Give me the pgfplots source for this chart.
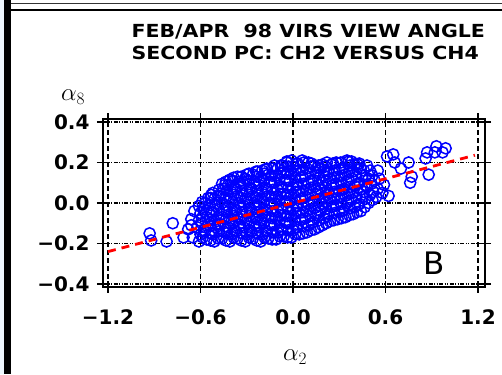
\documentclass[border=0pt]{standalone}
\usepackage{pgfplots}
\pgfplotsset{compat=1.18}
\usepackage{fontspec}
\usepackage{graphicx}
\setmainfont{DejaVu Sans}
\definecolor{edgeblue}{HTML}{EEF6FD}

\begin{document}
\begin{tikzpicture}[x=1pt,y=1pt]
\useasboundingbox (0,0) rectangle (502,374);
% frame bits of the original panel
\fill[edgeblue] (0,0) rectangle (4,374);
\fill[black] (4,0) rectangle (11,374);
\draw[black!80, line width=1.4pt] (11,370.3) -- (502,370.3);
\draw[black, line width=2pt] (11,364) -- (502,364);

\begin{axis}[
    scale only axis,
    width=382pt, height=168pt,
    at={(103pt,87pt)}, anchor=south west,
    clip mode=individual,
    xmin=-1.2324, xmax=1.2454,
    ymin=-0.4148, ymax=0.4148,
    xtick={-1.2,-0.6,0,0.6,1.2},
    xticklabels={−1.2,−0.6,0.0,0.6,1.2},
    ytick={-0.4,-0.2,0,0.2,0.4},
    yticklabels={−0.4,−0.2,0.0,0.2,0.4},
    tick align=center,
    major tick length=12pt,
    every tick/.style={black, line width=1.3pt},
    ticklabel style={font=\bfseries\fontsize{20}{20}\selectfont},
    xticklabel style={yshift=-13pt},
    yticklabel style={xshift=-4pt},
    axis line style={line width=1.4pt},
    xmajorgrids, ymajorgrids,
    x grid style={black, line width=1.2pt, dash pattern=on 5pt off 3pt},
    y grid style={black, line width=1.2pt, dash pattern=on 4pt off 1.5pt on 1pt off 1.5pt on 1pt off 1.5pt},
]
% PC scores, first set
\addplot[only marks, mark=o, mark size=5.6pt, blue, mark options={line width=1.5pt}] coordinates {
(-0.93,-0.15) (-0.92,-0.185) (-0.82,-0.19) (-0.78,-0.10) (-0.71,-0.17)
(-0.68,-0.13) (-0.66,-0.08) (-0.65,-0.17) (-0.64,-0.04) (-0.66,-0.11)
(-0.61,-0.19) (-0.60,-0.155) (-0.62,-0.12) (-0.61,-0.085) (-0.60,-0.05) (-0.61,-0.015)
(-0.56,-0.18) (-0.57,-0.14) (-0.55,-0.105) (-0.56,-0.07) (-0.56,-0.035) (-0.57,0.0) (-0.55,0.025)
(-0.51,-0.19) (-0.52,-0.155) (-0.50,-0.12) (-0.51,-0.085) (-0.52,-0.05) (-0.50,-0.015) (-0.51,0.02) (-0.52,0.05)
(-0.46,-0.175) (-0.45,-0.14) (-0.47,-0.105) (-0.46,-0.07) (-0.45,-0.035) (-0.46,0.0) (-0.47,0.035) (-0.45,0.07) (-0.46,0.095)
(-0.41,-0.19) (-0.40,-0.155) (-0.42,-0.12) (-0.41,-0.085) (-0.40,-0.05) (-0.42,-0.015) (-0.41,0.02) (-0.40,0.055) (-0.42,0.09) (-0.41,0.115)
(-0.36,-0.175) (-0.37,-0.14) (-0.35,-0.105) (-0.36,-0.07) (-0.37,-0.035) (-0.35,0.0) (-0.36,0.035) (-0.37,0.07) (-0.35,0.105) (-0.36,0.13)
(-0.31,-0.19) (-0.30,-0.155) (-0.32,-0.12) (-0.31,-0.085) (-0.30,-0.05) (-0.32,-0.015) (-0.31,0.02) (-0.30,0.055) (-0.32,0.09) (-0.31,0.12) (-0.30,0.14)
(-0.26,-0.175) (-0.27,-0.14) (-0.25,-0.105) (-0.26,-0.07) (-0.27,-0.035) (-0.25,0.0) (-0.26,0.035) (-0.27,0.07) (-0.25,0.105) (-0.26,0.14) (-0.24,0.155)
(-0.21,-0.19) (-0.20,-0.155) (-0.22,-0.12) (-0.21,-0.085) (-0.20,-0.05) (-0.22,-0.015) (-0.21,0.02) (-0.20,0.055) (-0.22,0.09) (-0.21,0.125) (-0.20,0.16)
(-0.16,-0.175) (-0.17,-0.14) (-0.15,-0.105) (-0.16,-0.07) (-0.17,-0.035) (-0.15,0.0) (-0.16,0.035) (-0.17,0.07) (-0.15,0.105) (-0.16,0.14) (-0.17,0.17)
(-0.11,-0.18) (-0.10,-0.145) (-0.12,-0.11) (-0.11,-0.075) (-0.10,-0.04) (-0.12,-0.005) (-0.11,0.03) (-0.10,0.065) (-0.12,0.10) (-0.11,0.135) (-0.10,0.17) (-0.12,0.185)
(-0.06,-0.165) (-0.07,-0.13) (-0.05,-0.095) (-0.06,-0.06) (-0.07,-0.025) (-0.05,0.01) (-0.06,0.045) (-0.07,0.08) (-0.05,0.115) (-0.06,0.15) (-0.07,0.185) (-0.04,0.20)
(-0.01,-0.17) (0.00,-0.135) (-0.02,-0.10) (-0.01,-0.065) (0.00,-0.03) (-0.02,0.005) (-0.01,0.04) (0.00,0.075) (-0.02,0.11) (-0.01,0.145) (0.00,0.18) (-0.01,0.21)
(0.04,-0.155) (0.03,-0.12) (0.05,-0.085) (0.04,-0.05) (0.03,-0.015) (0.05,0.02) (0.04,0.055) (0.03,0.09) (0.05,0.125) (0.04,0.16) (0.03,0.195) (0.06,0.21)
(0.09,-0.145) (0.10,-0.11) (0.08,-0.075) (0.09,-0.04) (0.10,-0.005) (0.08,0.03) (0.09,0.065) (0.10,0.10) (0.08,0.135) (0.09,0.17) (0.10,0.20)
(0.14,-0.13) (0.13,-0.095) (0.15,-0.06) (0.14,-0.025) (0.13,0.01) (0.15,0.045) (0.14,0.08) (0.13,0.115) (0.15,0.15) (0.14,0.185)
(0.19,-0.11) (0.20,-0.075) (0.18,-0.04) (0.19,-0.005) (0.20,0.03) (0.18,0.065) (0.19,0.10) (0.20,0.135) (0.18,0.17) (0.19,0.19)
(0.24,-0.09) (0.23,-0.055) (0.25,-0.02) (0.24,0.015) (0.23,0.05) (0.25,0.085) (0.24,0.12) (0.23,0.155) (0.25,0.19) (0.22,0.20)
(0.29,-0.08) (0.30,-0.045) (0.28,-0.01) (0.29,0.025) (0.30,0.06) (0.28,0.095) (0.29,0.13) (0.30,0.165) (0.28,0.20)
(0.34,-0.07) (0.33,-0.035) (0.35,0.0) (0.34,0.035) (0.33,0.07) (0.35,0.105) (0.34,0.14) (0.33,0.175) (0.35,0.21)
(0.39,-0.055) (0.40,-0.02) (0.38,0.015) (0.39,0.05) (0.40,0.085) (0.38,0.12) (0.39,0.155) (0.40,0.19) (0.38,0.205)
(0.44,-0.04) (0.43,-0.005) (0.45,0.03) (0.44,0.065) (0.43,0.10) (0.45,0.135) (0.44,0.17) (0.43,0.195)
(0.49,0.0) (0.50,0.04) (0.48,0.08) (0.49,0.12) (0.50,0.16) (0.48,0.185)
(0.54,0.03) (0.55,0.07) (0.53,0.11) (0.55,0.16)
(0.58,0.05) (0.59,0.09) (0.62,0.035) (0.56,0.12)
(0.61,0.23) (0.65,0.24) (0.66,0.20) (0.70,0.17) (0.75,0.20) (0.77,0.13) (0.76,0.10)
(0.88,0.14) (0.87,0.25) (0.86,0.22) (0.93,0.28) (0.99,0.27) (0.97,0.25) (0.92,0.25)
};
% PC scores, second set
\addplot[only marks, mark=o, mark size=5.6pt, blue, mark options={line width=1.5pt}] coordinates {
(-0.585,-0.17) (-0.58,-0.135) (-0.59,-0.10) (-0.585,-0.065) (-0.58,-0.03) (-0.59,0.005)
(-0.535,-0.185) (-0.53,-0.15) (-0.54,-0.115) (-0.535,-0.08) (-0.53,-0.045) (-0.54,-0.01) (-0.535,0.025) (-0.53,0.04)
(-0.485,-0.175) (-0.48,-0.14) (-0.49,-0.105) (-0.485,-0.07) (-0.48,-0.035) (-0.49,0.0) (-0.485,0.035) (-0.48,0.065)
(-0.435,-0.185) (-0.43,-0.15) (-0.44,-0.115) (-0.435,-0.08) (-0.43,-0.045) (-0.44,-0.01) (-0.435,0.025) (-0.43,0.06) (-0.44,0.09) (-0.435,0.105)
(-0.385,-0.17) (-0.38,-0.135) (-0.39,-0.10) (-0.385,-0.065) (-0.38,-0.03) (-0.39,0.005) (-0.385,0.04) (-0.38,0.075) (-0.39,0.11) (-0.385,0.125)
(-0.335,-0.185) (-0.33,-0.15) (-0.34,-0.115) (-0.335,-0.08) (-0.33,-0.045) (-0.34,-0.01) (-0.335,0.025) (-0.33,0.06) (-0.34,0.095) (-0.335,0.13)
(-0.285,-0.17) (-0.28,-0.135) (-0.29,-0.10) (-0.285,-0.065) (-0.28,-0.03) (-0.29,0.005) (-0.285,0.04) (-0.28,0.075) (-0.29,0.11) (-0.285,0.145)
(-0.235,-0.185) (-0.23,-0.15) (-0.24,-0.115) (-0.235,-0.08) (-0.23,-0.045) (-0.24,-0.01) (-0.235,0.025) (-0.23,0.06) (-0.24,0.095) (-0.235,0.13) (-0.23,0.155)
(-0.185,-0.17) (-0.18,-0.135) (-0.19,-0.10) (-0.185,-0.065) (-0.18,-0.03) (-0.19,0.005) (-0.185,0.04) (-0.18,0.075) (-0.19,0.11) (-0.185,0.145) (-0.18,0.165)
(-0.135,-0.18) (-0.13,-0.145) (-0.14,-0.11) (-0.135,-0.075) (-0.13,-0.04) (-0.14,-0.005) (-0.135,0.03) (-0.13,0.065) (-0.14,0.10) (-0.135,0.135) (-0.13,0.17)
(-0.085,-0.165) (-0.08,-0.13) (-0.09,-0.095) (-0.085,-0.06) (-0.08,-0.025) (-0.09,0.01) (-0.085,0.045) (-0.08,0.08) (-0.09,0.115) (-0.085,0.15) (-0.08,0.185)
(-0.035,-0.17) (-0.03,-0.135) (-0.04,-0.10) (-0.035,-0.065) (-0.03,-0.03) (-0.04,0.005) (-0.035,0.04) (-0.03,0.075) (-0.04,0.11) (-0.035,0.145) (-0.03,0.18) (-0.04,0.205)
(0.015,-0.155) (0.02,-0.12) (0.01,-0.085) (0.015,-0.05) (0.02,-0.015) (0.01,0.02) (0.015,0.055) (0.02,0.09) (0.01,0.125) (0.015,0.16) (0.02,0.195)
(0.065,-0.15) (0.07,-0.115) (0.06,-0.08) (0.065,-0.045) (0.07,-0.01) (0.06,0.025) (0.065,0.06) (0.07,0.095) (0.06,0.13) (0.065,0.165) (0.07,0.20)
(0.115,-0.135) (0.12,-0.10) (0.11,-0.065) (0.115,-0.03) (0.12,0.005) (0.11,0.04) (0.115,0.075) (0.12,0.11) (0.11,0.145) (0.115,0.18) (0.12,0.195)
(0.165,-0.12) (0.17,-0.085) (0.16,-0.05) (0.165,-0.015) (0.17,0.02) (0.16,0.055) (0.165,0.09) (0.17,0.125) (0.16,0.16) (0.165,0.185)
(0.215,-0.10) (0.22,-0.065) (0.21,-0.03) (0.215,0.005) (0.22,0.04) (0.21,0.075) (0.215,0.11) (0.22,0.145) (0.21,0.18)
(0.265,-0.085) (0.27,-0.05) (0.26,-0.015) (0.265,0.02) (0.27,0.055) (0.26,0.09) (0.265,0.125) (0.27,0.16) (0.26,0.195)
(0.315,-0.075) (0.32,-0.04) (0.31,-0.005) (0.315,0.03) (0.32,0.065) (0.31,0.10) (0.315,0.135) (0.32,0.17) (0.31,0.20)
(0.365,-0.06) (0.37,-0.025) (0.36,0.01) (0.365,0.045) (0.37,0.08) (0.36,0.115) (0.365,0.15) (0.37,0.185) (0.36,0.205)
(0.415,-0.045) (0.42,-0.01) (0.41,0.025) (0.415,0.06) (0.42,0.095) (0.41,0.13) (0.415,0.165) (0.42,0.19)
(0.465,-0.02) (0.47,0.02) (0.46,0.055) (0.465,0.09) (0.47,0.125) (0.46,0.16)
(0.515,0.015) (0.52,0.055) (0.51,0.095) (0.515,0.135)
};
% fitted line
\addplot[red, line width=2.8pt, dash pattern=on 8pt off 6pt] coordinates {(-1.2,-0.24) (1.18,0.236)};
\node[font=\fontsize{31}{31}\selectfont] at (axis cs:0.915,-0.299) {B};
\end{axis}

% titles and axis symbols
\node[anchor=base west, font=\bfseries\fontsize{18}{18}\selectfont] at (128,336)
  {\scalebox{1.14}[1]{FEB/APR\ \ 98 VIRS VIEW ANGLE}};
\node[anchor=base west, font=\bfseries\fontsize{18}{18}\selectfont] at (128,314)
  {\scalebox{1.14}[1]{SECOND PC: CH2 VERSUS CH4}};
\node[font=\fontsize{24}{24}\selectfont] at (73,277) {$\alpha_{8}$};
\node[font=\fontsize{24}{24}\selectfont] at (295,17) {$\alpha_{2}$};
\end{tikzpicture}
\end{document}
